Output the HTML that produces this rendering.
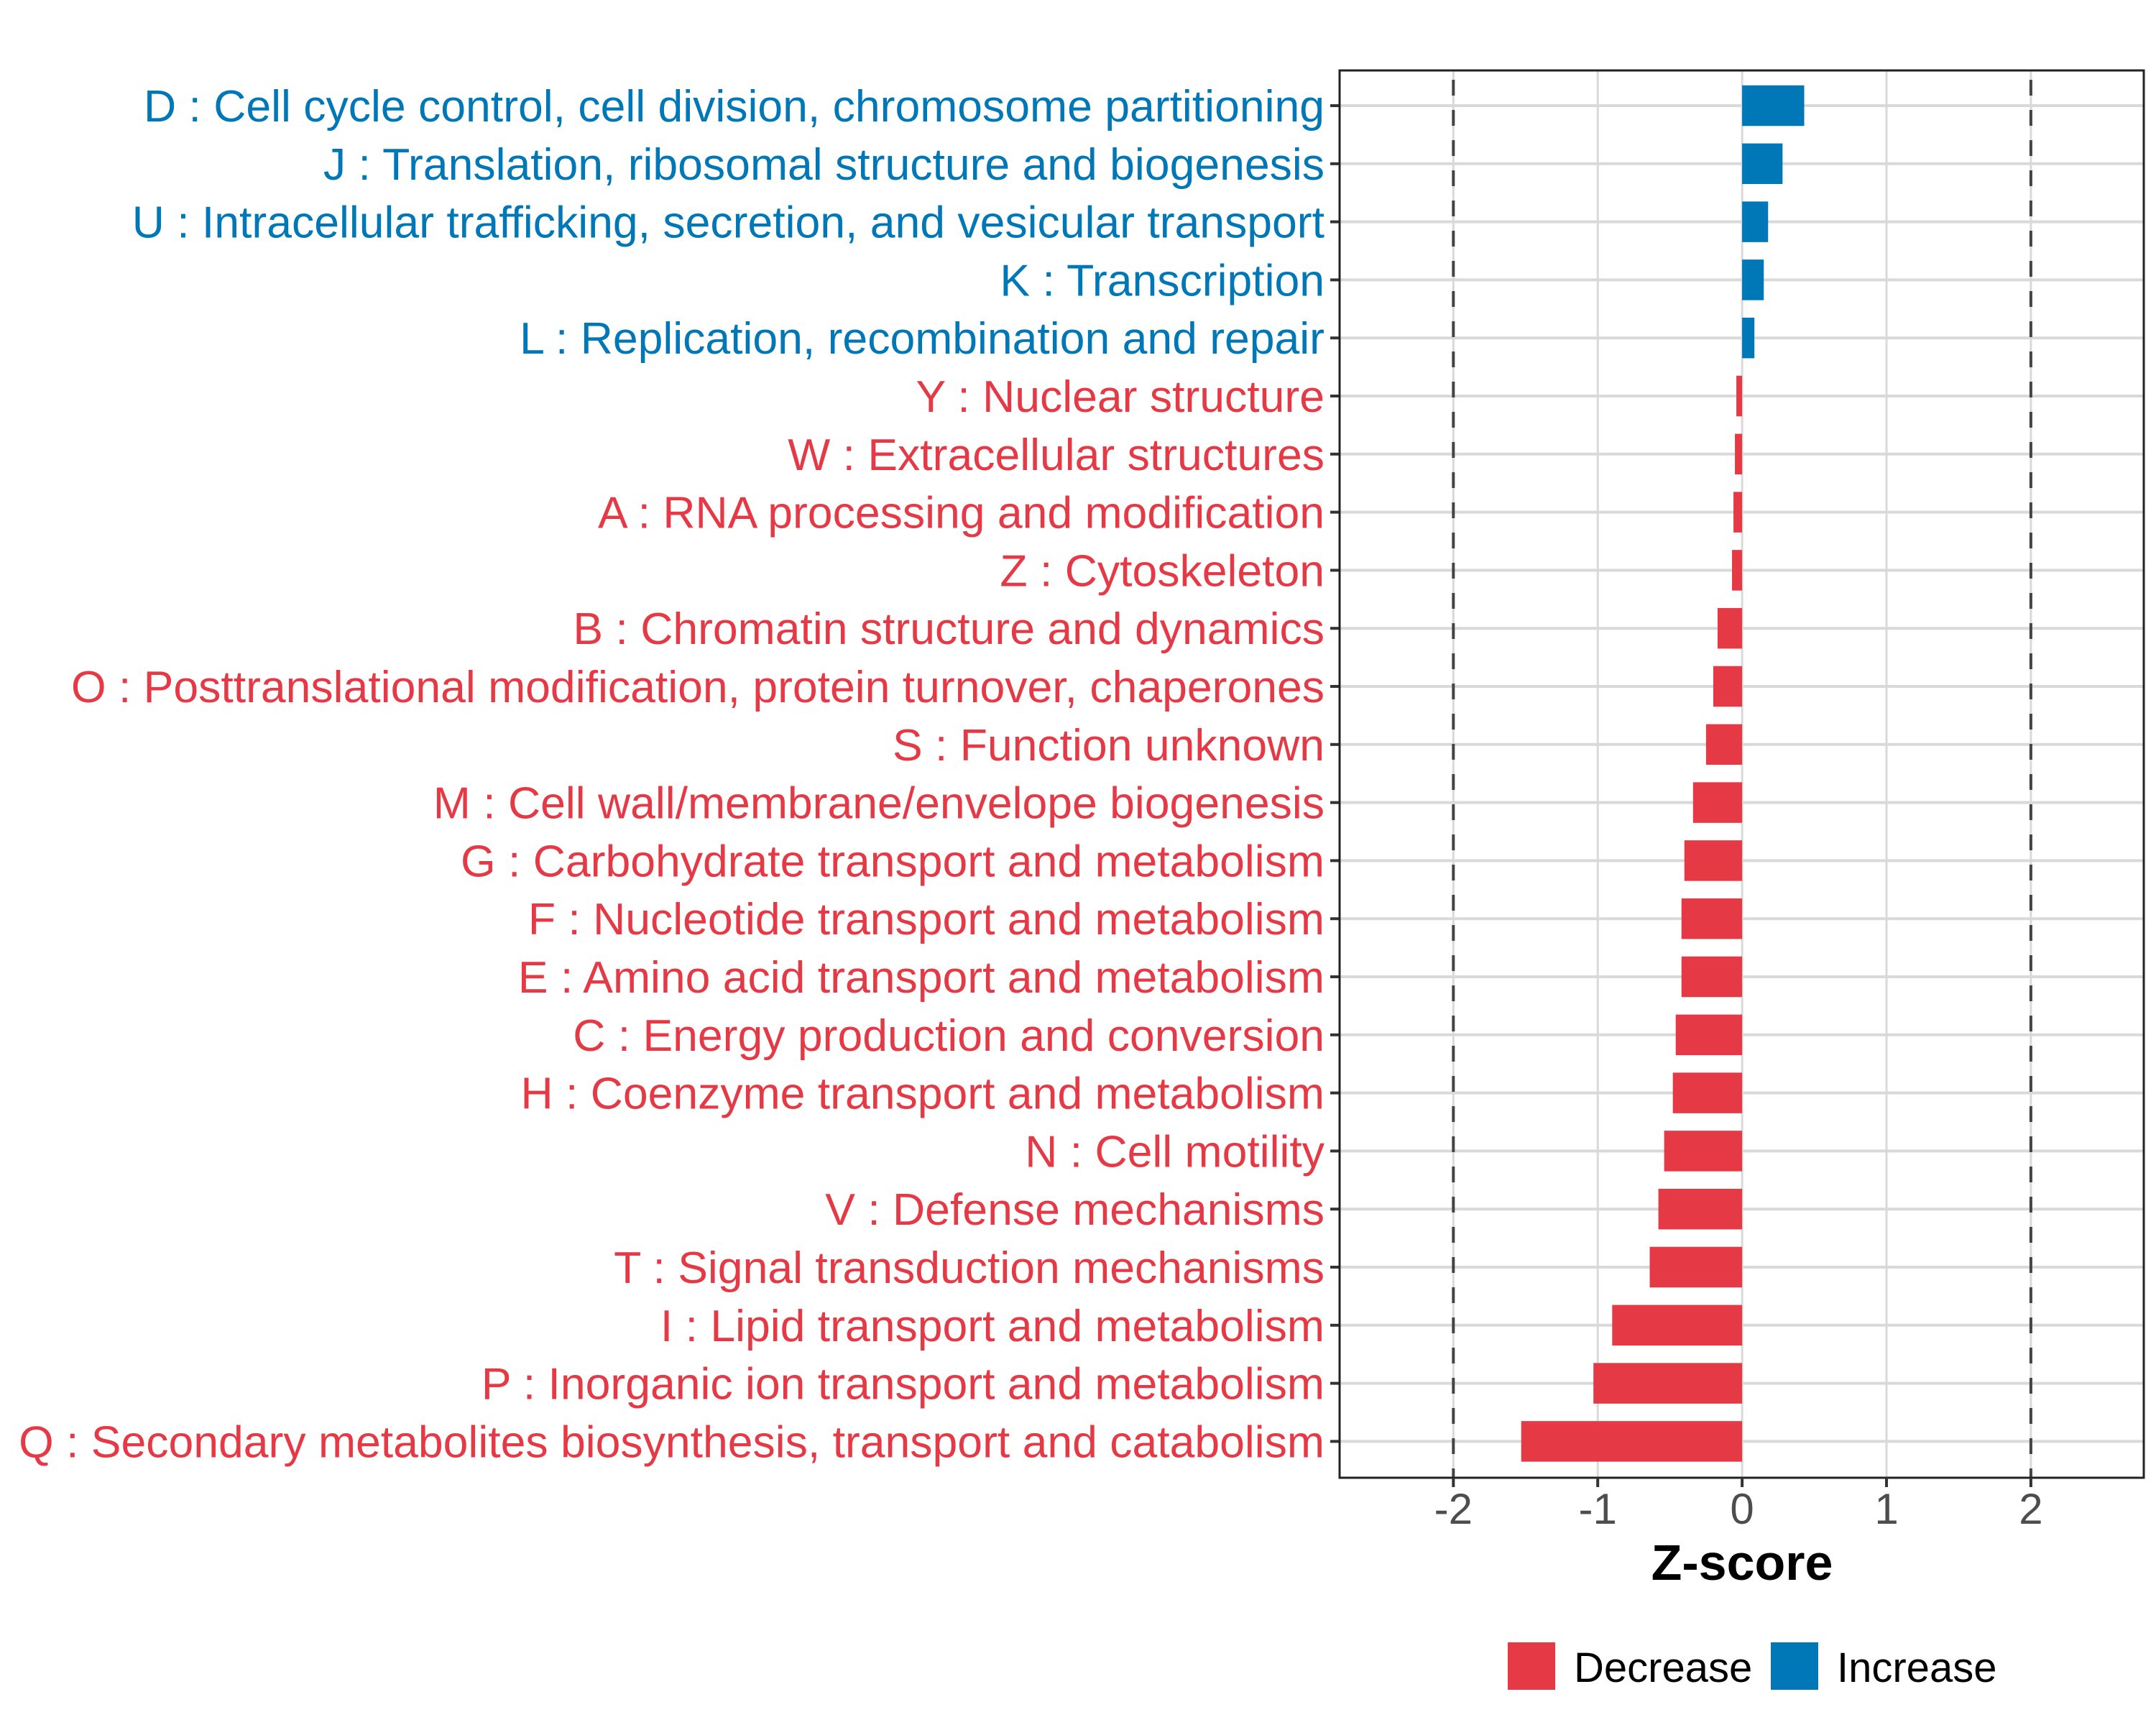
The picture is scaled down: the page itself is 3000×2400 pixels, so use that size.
<!DOCTYPE html>
<html><head><meta charset="utf-8">
<style>
html,body{margin:0;padding:0;background:#fff;}
svg{display:block;font-family:"Liberation Sans",Arial,sans-serif;}
</style></head>
<body>
<svg id="chart" width="3000" height="2400" viewBox="0 0 3000 2400" xmlns="http://www.w3.org/2000/svg">
<rect x="0" y="0" width="3000" height="2400" fill="#fff"/>
<g id="grid"></g>
<g id="bars"></g>
<g id="ylabels"></g>
<g id="xaxis"></g>
<text x="2424" y="2198" text-anchor="middle" font-size="70" font-weight="bold" fill="#000">Z-score</text>
<g>
  <rect x="2098" y="2285" width="66" height="66" fill="#E63946"/>
  <text x="2190" y="2340" font-size="58" fill="#000">Decrease</text>
  <rect x="2464" y="2285" width="66" height="66" fill="#0077B6"/>
  <text x="2556" y="2340" font-size="58" fill="#000">Increase</text>
</g>
</svg>
<script>
const categories = [
"D : Cell cycle control, cell division, chromosome partitioning",
"J : Translation, ribosomal structure and biogenesis",
"U : Intracellular trafficking, secretion, and vesicular transport",
"K : Transcription",
"L : Replication, recombination and repair",
"Y : Nuclear structure",
"W : Extracellular structures",
"A : RNA processing and modification",
"Z : Cytoskeleton",
"B : Chromatin structure and dynamics",
"O : Posttranslational modification, protein turnover, chaperones",
"S : Function unknown",
"M : Cell wall/membrane/envelope biogenesis",
"G : Carbohydrate transport and metabolism",
"F : Nucleotide transport and metabolism",
"E : Amino acid transport and metabolism",
"C : Energy production and conversion",
"H : Coenzyme transport and metabolism",
"N : Cell motility",
"V : Defense mechanisms",
"T : Signal transduction mechanisms",
"I : Lipid transport and metabolism",
"P : Inorganic ion transport and metabolism",
"Q : Secondary metabolites biosynthesis, transport and catabolism"
];
const zscores = [0.43,0.28,0.18,0.15,0.085,-0.04,-0.05,-0.06,-0.07,-0.17,-0.2,-0.25,-0.34,-0.4,-0.42,-0.42,-0.46,-0.48,-0.54,-0.58,-0.64,-0.9,-1.03,-1.53];
const xTicks = [-2,-1,0,1,2];
const xTickLabels = ["-2","-1","0","1","2"];
const thresholds = [-2,2];

const NS="http://www.w3.org/2000/svg";
const P={l:1864,r:2983,t:98,b:2056};
const xMin=-2.788, xMax=2.782;
function xs(v){return P.l+(v-xMin)/(xMax-xMin)*(P.r-P.l);}
function ys(i){return 147+i*80.8;}
function mk(tag,attrs,parent){const e=document.createElementNS(NS,tag);for(const k in attrs)e.setAttribute(k,attrs[k]);parent.appendChild(e);return e;}
const grid=document.getElementById('grid'),bars=document.getElementById('bars'),yl=document.getElementById('ylabels'),xa=document.getElementById('xaxis');
xTicks.forEach(v=>{
  const l=mk('line',{x1:xs(v),x2:xs(v),y1:P.t,y2:P.b,stroke:'#d9d9d9','stroke-width':3},grid);
  
  
});
categories.forEach((c,i)=>{
  const l=mk('line',{x1:P.l,x2:P.r,y1:ys(i),y2:ys(i),stroke:'#d9d9d9','stroke-width':4},grid);
  
  
});
thresholds.forEach(v=>{
  const l=mk('line',{x1:xs(v),x2:xs(v),y1:P.t,y2:P.b,stroke:'#444','stroke-width':4,'stroke-dasharray':'22,20','stroke-dashoffset':'-13'},grid);
  
  
});
const bh=56.5;
zscores.forEach((v,i)=>{
  const x0=xs(0),x1=xs(v);
  const col=v>=0?'#0077B6':'#E63946';
  const r=mk('rect',{x:Math.min(x0,x1),y:ys(i)-bh/2,width:Math.abs(x1-x0),height:bh,fill:col},bars);
  
  
  const t=mk('text',{x:1843,y:ys(i)+22,'text-anchor':'end','font-size':'62.5',fill:col},yl);
  t.textContent=categories[i];
  
  
  const tk=mk('line',{x1:1851,x2:P.l,y1:ys(i),y2:ys(i),stroke:'#333','stroke-width':4},yl);
  
  
});
const fr=mk('rect',{x:P.l,y:P.t,width:P.r-P.l,height:P.b-P.t,fill:'none',stroke:'#222','stroke-width':3},xa);


xTicks.forEach((v,i)=>{
  const tk=mk('line',{x1:xs(v),x2:xs(v),y1:P.b,y2:P.b+13,stroke:'#333','stroke-width':4},xa);
  
  
  const t=mk('text',{x:xs(v),y:2120,'text-anchor':'middle','font-size':'60',fill:'#4d4d4d'},xa);
  t.textContent=xTickLabels[i];
  
  
});
</script>
</body></html>
